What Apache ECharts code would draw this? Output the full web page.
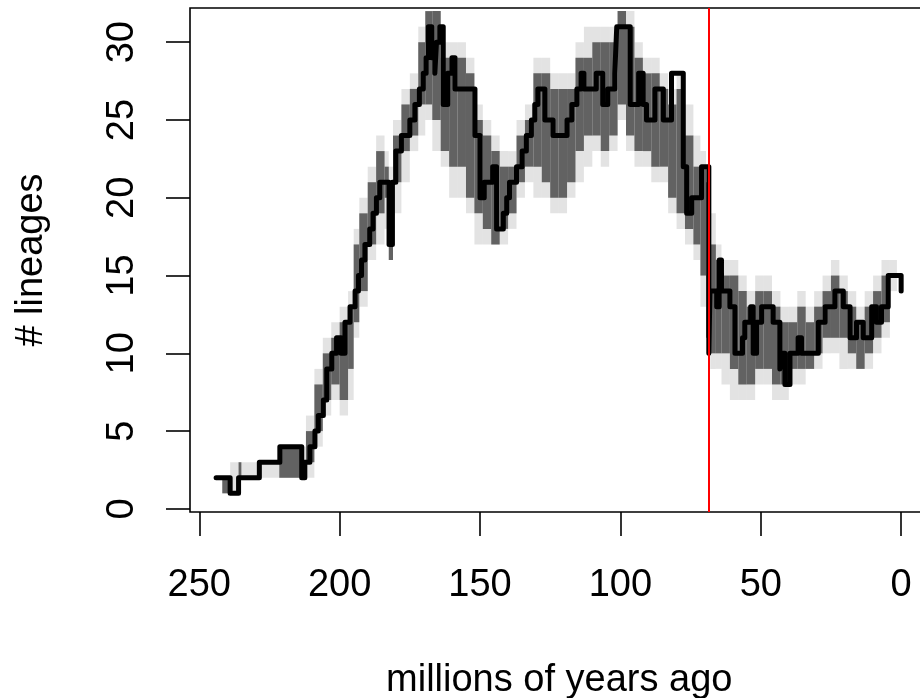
<!DOCTYPE html>
<html>
<head>
<meta charset="utf-8">
<script src="https://cdn.jsdelivr.net/npm/echarts@6/dist/echarts.min.js"></script>
<style>
html,body{margin:0;padding:0;background:#fff;overflow:hidden;width:920px;height:698px;}
#chart{width:940px;height:698px;}
</style>
</head>
<body>
<div id="chart"></div>
<script>
// ---- data (millions of years ago, number of lineages) ----
var lineTimes = [244.0,239.0,236.0,228.6,221.3,213.5,212.4,210.6,208.8,207.6,205.8,204.6,202.8,201.1,199.5,198.1,196.3,194.5,193.3,192.2,191.0,189.3,188.1,186.9,185.7,182.4,181.2,180.0,178.0,175.0,173.2,171.6,170.2,169.2,168.4,167.2,166.1,165.5,164.3,163.1,161.5,160.0,158.9,151.8,150.0,148.5,145.5,144.1,141.7,140.5,139.5,137.0,135.0,133.5,131.7,130.5,129.4,126.9,124.0,119.0,117.3,115.5,114.0,113.0,108.6,106.3,104.5,102.0,101.3,96.5,93.5,91.9,90.7,87.7,84.7,81.8,77.6,76.4,74.6,71.1,68.5,68.1,65.7,64.8,64.0,61.0,59.2,56.5,55.7,53.6,52.7,51.5,49.7,45.6,43.2,42.6,41.4,39.6,36.7,35.5,29.5,27.1,23.6,20.6,18.2,15.9,13.5,10.5,8.8,7.0,4.6,0.0];
var lineCounts = [2,1,2,3,4,2,3,4,5,6,7,9,10,11,10,12,13,14,15,16,17,18,19,20,21,17,21,23,24,25,26,27,28,29,31,29,28,30,31,26,28,29,27,24,20,21,22,18,19,20,21,22,23,24,25,26,27,25,24,25,26,27,28,27,28,26,27,28,31,26,28,26,25,27,25,28,22,19,20,22,10,14,13,16,14,13,10,11,12,13,10,12,13,12,9,10,8,10,11,10,12,13,14,13,11,12,11,13,12,13,15,14];

// spread of the simulated histories (grey band): segment boundaries, low, high
var bandTimes = [241.8,239.0,236.0,235.0,221.5,213.5,212.0,209.0,206.0,203.0,200.0,197.0,195.0,193.0,190.0,187.0,184.0,182.5,181.0,178.0,175.0,172.0,169.5,167.0,164.0,161.0,158.0,155.0,152.0,149.0,146.0,143.0,140.0,137.0,134.0,131.0,128.0,125.0,122.0,119.0,116.0,113.0,110.0,107.0,104.0,101.0,98.0,95.0,92.0,89.0,86.0,83.0,80.0,77.0,74.0,71.5,69.5,68.0,66.0,64.0,61.0,58.0,55.0,52.0,49.0,46.0,43.0,40.0,37.0,34.0,31.0,28.0,25.0,22.0,19.0,16.0,13.0,10.0,7.0,4.0,1.5];
var bandLow  = [1,2,2,3,2,2,3,5,7,8,7,9,12,14,17,19,20,16,21,23,24,26,26,25,23,22,22,20,19,18,17,18,19,21,22,22,21,20,20,21,23,24,24,23,24,26,24,23,23,22,22,20,19,18,17,15,11,10,10,10,9,8,8,9,9,8,8,9,9,9,10,11,11,11,10,9,10,11,12,15];
var bandHigh = [2,2,3,3,4,3,5,8,10,11,12,13,17,19,21,23,22,21,24,26,27,30,32,32,29,29,29,28,25,24,23,22,22,24,25,28,28,27,27,27,29,29,30,30,30,32,31,29,28,28,27,26,27,24,22,22,21,17,16,15,15,14,13,14,14,13,12,12,13,12,13,14,15,14,13,12,13,14,15,15];
var fringeLow  = [1,1,2,2,2,2,2,4,6,7,6,7,11,13,16,17,18,16,19,21,23,24,25,23,22,20,20,19,17,17,17,17,18,20,21,20,20,19,19,20,21,22,23,22,23,25,23,22,22,21,21,19,18,17,16,13,10,9,9,8,7,7,7,8,8,7,7,8,8,9,9,10,10,9,9,9,9,10,11,14];
var fringeHigh = [2,3,3,3,4,4,6,9,11,12,13,14,18,20,22,24,23,22,25,27,28,31,32,32,30,30,30,29,26,25,24,23,23,25,26,29,29,28,28,28,30,31,31,31,31,32,32,30,29,29,28,27,28,26,24,23,22,19,17,16,16,15,14,15,15,14,13,13,14,13,14,15,16,15,14,13,14,15,16,16];

var xTicks = [0,50,100,150,200,250];
var yTicks = [0,5,10,15,20,25,30];
var boundaryAge = 68.4;

// ---- build ----
var lineData = lineTimes.map(function(t,i){return [t, lineCounts[i]];});
function bandData(lo, hi){
  var out = [];
  for (var i = 0; i < lo.length; i++) out.push([bandTimes[i], bandTimes[i+1], lo[i], hi[i]]);
  return out;
}
function bandRender(color){
  return function(params, api){
    var a = api.coord([api.value(0), api.value(3)]);
    var b = api.coord([api.value(1), api.value(2)]);
    var x = Math.min(a[0], b[0]), y = Math.min(a[1], b[1]);
    return {type:'rect', shape:{x:x, y:y, width:Math.abs(b[0]-a[0]), height:Math.abs(b[1]-a[1])},
            style:{fill:color}};
  };
}

var FONT = 'Liberation Sans, Arial, Helvetica, sans-serif';
var chart = echarts.init(document.getElementById('chart'), null, {renderer:'canvas'});
chart.setOption({
  animation:false,
  backgroundColor:'#ffffff',
  grid:{left:190, top:8, width:738.5, height:504, show:true, borderColor:'#000', borderWidth:1.6, backgroundColor:'transparent', containLabel:false, outerBoundsMode:'none'},
  xAxis:{
    type:'value', inverse:true, min:-9.74, max:253.3,
    name:'millions of years ago', nameLocation:'middle', nameGap:150,
    nameTextStyle:{fontFamily:FONT, fontSize:38, color:'#000'},
    axisLine:{show:false, onZero:false},
    axisTick:{show:true, inside:false, length:24, customValues:xTicks, lineStyle:{color:'#000', width:1.6}},
    axisLabel:{show:true, margin:55, fontFamily:FONT, fontSize:38, color:'#000', customValues:xTicks},
    splitLine:{show:false}
  },
  yAxis:{
    type:'value', min:-0.2, max:32.2,
    name:'# lineages', nameLocation:'middle', nameGap:139, nameRotate:90,
    nameTextStyle:{fontFamily:FONT, fontSize:38, color:'#000'},
    axisLine:{show:false, onZero:false},
    axisTick:{show:true, inside:false, length:24, customValues:yTicks, lineStyle:{color:'#000', width:1.6}},
    axisLabel:{show:true, margin:48, rotate:90, fontFamily:FONT, fontSize:38, color:'#000', customValues:yTicks},
    splitLine:{show:false}
  },
  series:[
    {type:'custom', name:'fringe', data:bandData(fringeLow, fringeHigh), renderItem:bandRender('rgba(0,0,0,0.11)'), encode:{x:[0,1], y:[2,3]}, z:1, silent:true},
    {type:'custom', name:'band', data:bandData(bandLow, bandHigh), renderItem:bandRender('#626262'), encode:{x:[0,1], y:[2,3]}, z:2, silent:true},
    {type:'line', name:'lineages', data:lineData, step:'end', showSymbol:false, symbol:'none', z:3, silent:true,
     lineStyle:{color:'#000', width:5, cap:'round', join:'round'},
     markLine:{silent:true, symbol:['none','none'], label:{show:false}, animation:false,
       lineStyle:{color:'#ff0000', width:2, type:'solid'},
       data:[[{coord:[boundaryAge, -0.2]}, {coord:[boundaryAge, 32.2]}]]}}
  ]
});
</script>
</body>
</html>
